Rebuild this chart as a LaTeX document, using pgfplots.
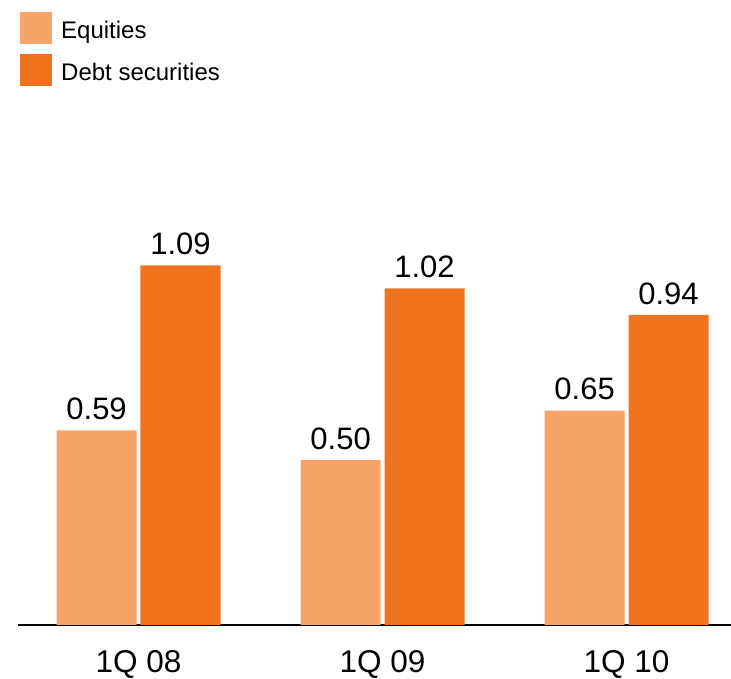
\documentclass[border=0pt]{standalone}
\usepackage{pgfplots}
\pgfplotsset{compat=1.18}
\usepackage{fontspec}
\setmainfont{Liberation Sans}
\definecolor{equity}{HTML}{F7A468}
\definecolor{debt}{HTML}{F0731E}
\definecolor{baseline}{HTML}{6A6A6A}

\begin{document}
\begin{tikzpicture}
\begin{axis}[
  ybar,
  scale only axis, width=713pt, height=625pt,
  xmin=-0.494, xmax=2.428, ymin=0, ymax=1.894,
  axis x line*=bottom, axis y line=none,
  x axis line style={baseline, line width=1.5pt, -},
  xtick={0,1,2}, xticklabels={1Q 08,1Q 09,1Q 10},
  major tick length=0pt,
  xticklabel style={font=\fontsize{31.5}{31.5}\selectfont, inner sep=0pt, yshift=-25.5pt},
  bar width=0.328,
  nodes near coords,
  every node near coord/.append style={font=\fontsize{31}{31}\selectfont, inner sep=0pt, yshift=10pt},
  /pgf/number format/.cd, fixed, fixed zerofill, precision=2, assume math mode=true,
  /pgfplots/.cd,
  legend style={at={(axis description cs:0,1)}, anchor=north west, xshift=2pt, yshift=-12pt,
    draw=none, fill=none, inner sep=0pt, row sep=10pt,
    font=\fontsize{24}{24}\selectfont,
    nodes={inner sep=0pt},
    /tikz/every odd column/.append style={column sep=9pt}},
  legend cell align=left,
  legend image code/.code={\fill[#1] (0pt,-13.5pt) rectangle (32pt,18.5pt);},
]
\addplot[bar shift=-0.172, fill=equity, draw=none]
  coordinates {(0,0.59) (1,0.50) (2,0.65)};
\addplot[bar shift=0.172, fill=debt, draw=none]
  coordinates {(0,1.09) (1,1.02) (2,0.94)};
\legend{Equities, Debt securities}
\end{axis}
\pgfresetboundingbox
\path (current axis.south west) ++(-18pt,-54pt) rectangle (current axis.north east);
\end{tikzpicture}
\end{document}
